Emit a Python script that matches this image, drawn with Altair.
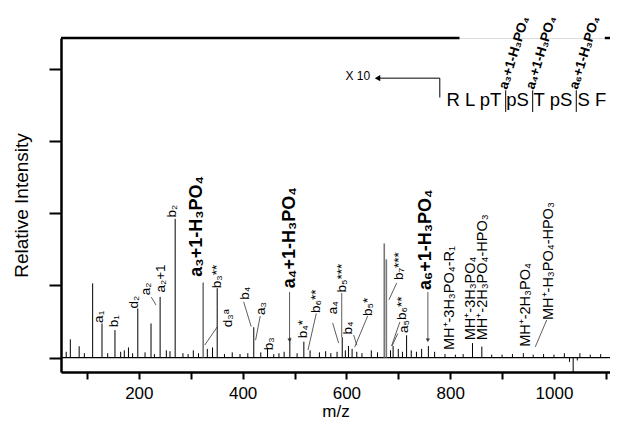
import altair as alt
import pandas as pd

FONT = "Liberation Sans"

# ---- main stick peaks (m/z, relative intensity) ----
peak_mz = [68, 85, 111, 129, 154, 172, 180, 198, 223.5, 241, 253, 270, 305, 332, 342, 351,
           421.5, 448, 491, 518, 592, 604, 611, 690, 700, 716, 758, 843, 861, 941, 1037]
peak_int = [6.3, 3.9, 25.7, 11.8, 9.5, 2.5, 3.5, 17, 11.8, 21, 2.5, 48, 2.5, 3, 3.5, 24,
            10.5, 3, 7, 5.5, 7, 4, 3, 4, 3, 7.7, 4, 5, 3.8, 1.5, -5]
grey_mz = [324, 673, 677]
grey_int = [26, 39.5, 34]

# ---- baseline noise ----
noise_mz = [60, 95, 140, 165, 188, 212, 230, 260, 285, 295, 315, 365, 380, 395, 410, 435, 460,
            470, 480, 505, 530, 548, 560, 570, 582, 598, 620, 630, 648, 660, 685, 708, 725, 735,
            745, 770, 790, 810, 825, 880, 900, 920, 960, 980, 1000, 1020, 1030, 1045, 1050, 1070, 1090]
noise_int = [2, 1.5, 1.5, 2, 1.5, 1.8, 1.2, 2.2, 1.5, 1.2, 1.5, 1.2, 1.8, 1.2, 1.5, 1.8, 1.2,
             1.5, 2, 1.5, 2.5, 1.8, 2.2, 1.5, 2, 2.5, 2, 1.5, 2.5, 1.8, 2.5, 2, 2.5, 2,
             3, 2, 1.2, 1, 1.2, 1, 1, 1.2, 1, 1.2, 1, 1.5, -1.5, -1, 1.5, 1, 1.2]

# ---- small fragment labels (rotated) ----
small_text = ["a₁", "b₁", "d₂", "a₂", "a₂+1", "b₂", "b₃**", "d₃ᵃ", "b₄", "a₃", "b₃",
              "b₄*", "b₆**", "a₄", "b₅***", "b₄", "b₅*", "b₇***", "b₆**", "a₅"]
small_mz = [124, 153, 191, 214, 242, 264, 350, 371, 405, 435, 450,
            516, 541, 574, 591, 604, 641, 701, 707, 711]
small_int = [12, 10.5, 17, 21.6, 22.5, 48.5, 24, 10.5, 20, 14.7, 2.5,
             6.7, 15.4, 15, 22.5, 8, 14.4, 26.8, 13, 8.5]

# ---- large bold labels ----
big_text = ["a₃+1-H₃PO₄", "a₄+1-H₃PO₄", "a₆+1-H₃PO₄"]
big_mz = [313, 490.5, 753]
big_int = [28, 24, 23.4]

# ---- MH+ loss labels ----
mh_text = ["MH⁺-3H₃PO₄-R₁", "MH⁺-3H₃PO₄", "MH⁺-2H₃PO₄-HPO₃", "MH⁺-2H₃PO₄", "MH⁺-H₃PO₄-HPO₃"]
mh_mz = [799, 840, 863, 946, 990]
mh_int = [2.6, 6, 6, 3.7, 13]

# ---- leader lines (from label to peak) ----
lead_x1 = [224, 351, 402, 434, 490.5, 542, 573.5, 591, 614, 641, 697, 703, 699, 757, 986]
lead_y1 = [20.9, 10.6, 19.3, 14.4, 22.7, 15.3, 12, 22.3, 7.8, 14.4, 25.8, 12.3, 8.3, 22.7, 13]
lead_x2 = [233, 327, 416.5, 425, 490.5, 526, 585, 591, 620, 616, 682, 687, 688, 757, 964]
lead_y2 = [18.2, 4.3, 10.7, 6, 6, 2.6, 5, 7, 4.3, 3.6, 20, 4, 4, 6, 3.7]
arrow_x = [490.5, 757]
arrow_y = [6, 6]

# ---- inset: sequence and magnification arrow ----
top_line_x1 = [50, 1098]
top_line_x2 = [818, 1108]
seq_text = ["R L pT pS T pS S F"]
seq_start_mz = [793]
seq_bar_mz = [907, 959, 1043]
ins_text = ["a₃+1-H₃PO₄", "a₄+1-H₃PO₄", "a₆+1-H₃PO₄"]
ins_mz = [902, 954, 1038]

Y_TOP = 110.6
x_scale = alt.Scale(domain=[50, 1108], nice=False, zero=False)
y_scale = alt.Scale(domain=[-5, Y_TOP], nice=False, zero=False)

peaks = pd.DataFrame({"mz": peak_mz + noise_mz, "inten": peak_int + noise_int})
peaks["base"] = 0.0
greys = pd.DataFrame({"mz": grey_mz, "inten": grey_int, "base": 0.0})

x_axis = alt.Axis(values=list(range(100, 1101, 100)),
                  labelExpr="datum.value % 200 == 0 ? format(datum.value, 'd') : ''",
                  tickSize=7, tickWidth=2, domainWidth=2.5, domainColor="black",
                  tickColor="black", labelColor="black", labelFontSize=17, labelFont=FONT,
                  labelPadding=6, title="m/z", titleFont=FONT, titleFontSize=17,
                  titleFontWeight="normal", titleColor="black", titlePadding=2, grid=False)
y_axis = alt.Axis(values=[0, 25, 50, 75, 100], labels=False, tickSize=12, tickWidth=2,
                  domainWidth=2.5, domainColor="black", tickColor="black",
                  title="Relative Intensity", titleFont=FONT, titleFontSize=19,
                  titleFontWeight="normal", titleColor="black", titlePadding=17, grid=False)

baseline = alt.Chart(pd.DataFrame({"x1": [50], "x2": [1108], "y": [0]})).mark_rule(
    color="black", strokeWidth=1.2).encode(
    x=alt.X("x1:Q", scale=x_scale, axis=x_axis),
    x2="x2:Q",
    y=alt.Y("y:Q", scale=y_scale, axis=y_axis))

stick = alt.Chart(peaks).mark_rule(color="black", strokeWidth=1).encode(
    x=alt.X("mz:Q", scale=x_scale), y=alt.Y("base:Q", scale=y_scale), y2="inten:Q")
stick_g = alt.Chart(greys).mark_rule(color="#777777", strokeWidth=1.6).encode(
    x=alt.X("mz:Q", scale=x_scale), y=alt.Y("base:Q", scale=y_scale), y2="inten:Q")

leads = alt.Chart(pd.DataFrame({"x1": lead_x1, "y1": lead_y1, "x2": lead_x2, "y2": lead_y2})
                  ).mark_rule(color="#333333", strokeWidth=0.8).encode(
    x=alt.X("x1:Q", scale=x_scale), y=alt.Y("y1:Q", scale=y_scale), x2="x2:Q", y2="y2:Q")
arrows = alt.Chart(pd.DataFrame({"x": arrow_x, "y": arrow_y})).mark_point(
    shape="triangle-down", filled=True, size=18, color="#333333", opacity=1).encode(
    x=alt.X("x:Q", scale=x_scale), y=alt.Y("y:Q", scale=y_scale))

small_lab = alt.Chart(pd.DataFrame({"t": small_text, "mz": small_mz, "y": small_int})).mark_text(
    angle=270, align="left", baseline="middle", font=FONT, fontSize=13.5, color="black").encode(
    x=alt.X("mz:Q", scale=x_scale), y=alt.Y("y:Q", scale=y_scale), text="t:N")
big_lab = alt.Chart(pd.DataFrame({"t": big_text, "mz": big_mz, "y": big_int})).mark_text(
    angle=270, align="left", baseline="middle", font=FONT, fontSize=18, fontWeight="bold",
    color="black").encode(
    x=alt.X("mz:Q", scale=x_scale), y=alt.Y("y:Q", scale=y_scale), text="t:N")
mh_lab = alt.Chart(pd.DataFrame({"t": mh_text, "mz": mh_mz, "y": mh_int})).mark_text(
    angle=270, align="left", baseline="middle", font=FONT, fontSize=14.5, color="black").encode(
    x=alt.X("mz:Q", scale=x_scale), y=alt.Y("y:Q", scale=y_scale), text="t:N")

top_line = alt.Chart(pd.DataFrame({"x1": top_line_x1, "x2": top_line_x2, "y": [Y_TOP, Y_TOP]})
                     ).mark_rule(color="black", strokeWidth=2.5).encode(
    x=alt.X("x1:Q", scale=x_scale), x2="x2:Q", y=alt.Y("y:Q", scale=y_scale))

# magnification arrow
mag_line = alt.Chart(pd.DataFrame({"x1": [662], "x2": [780], "y": [96.7]})).mark_rule(
    color="black", strokeWidth=1).encode(
    x=alt.X("x1:Q", scale=x_scale), x2="x2:Q", y=alt.Y("y:Q", scale=y_scale))
mag_vert = alt.Chart(pd.DataFrame({"x": [780], "y1": [96.7], "y2": [90]})).mark_rule(
    color="black", strokeWidth=1).encode(
    x=alt.X("x:Q", scale=x_scale), y=alt.Y("y1:Q", scale=y_scale), y2="y2:Q")
mag_head = alt.Chart(pd.DataFrame({"x": [660], "y": [96.7]})).mark_point(
    shape="triangle-left", filled=True, size=40, color="black", opacity=1).encode(
    x=alt.X("x:Q", scale=x_scale), y=alt.Y("y:Q", scale=y_scale))
mag_text = alt.Chart(pd.DataFrame({"t": ["X 10"], "x": [622], "y": [97.5]})).mark_text(
    font=FONT, fontSize=12, color="black", align="center", baseline="middle").encode(
    x=alt.X("x:Q", scale=x_scale), y=alt.Y("y:Q", scale=y_scale), text="t:N")

seq = alt.Chart(pd.DataFrame({"t": seq_text, "x": seq_start_mz, "y": [89]})).mark_text(
    font=FONT, fontSize=18.5, color="black", align="left", baseline="middle").encode(
    x=alt.X("x:Q", scale=x_scale), y=alt.Y("y:Q", scale=y_scale), text="t:N")
seq_bars = alt.Chart(pd.DataFrame({"x": seq_bar_mz, "y1": [85] * 3, "y2": [92.5] * 3})).mark_rule(
    color="black", strokeWidth=1).encode(
    x=alt.X("x:Q", scale=x_scale), y=alt.Y("y1:Q", scale=y_scale), y2="y2:Q")
ins_lab = alt.Chart(pd.DataFrame({"t": ins_text, "x": ins_mz, "y": [93.0] * 3})).mark_text(
    angle=287, align="left", baseline="middle", font=FONT, fontSize=13.5, fontWeight="bold",
    color="black").encode(
    x=alt.X("x:Q", scale=x_scale), y=alt.Y("y:Q", scale=y_scale), text="t:N")

chart = alt.layer(baseline, stick, stick_g, leads, arrows, small_lab, big_lab, mh_lab,
                  top_line, mag_line, mag_vert, mag_head, mag_text, seq, seq_bars, ins_lab
                  ).properties(
    width=549, height=334, autosize=alt.AutoSizeParams(type="none"),
    padding={"left": 53, "top": 30, "right": 0, "bottom": 51}
).configure_view(stroke=None).configure(background="white")

chart.save("out.html", embed_options={"renderer": "svg", "actions": False})
